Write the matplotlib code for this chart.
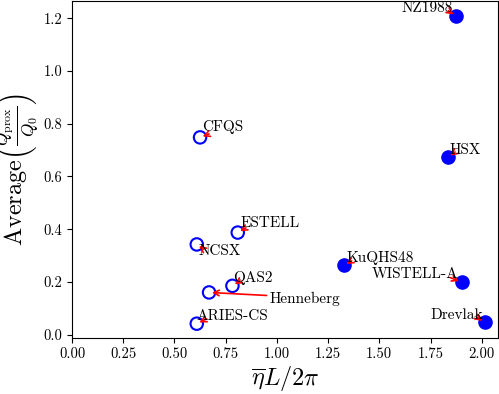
import matplotlib
matplotlib.use("Agg")
import matplotlib.pyplot as plt

plt.rcParams['font.family'] = 'serif'
plt.rcParams['font.serif'] = ['cmr10']
plt.rcParams['mathtext.fontset'] = 'cm'
plt.rcParams['axes.formatter.use_mathtext'] = True

names = ["NZ1988", "HSX", "CFQS", "ESTELL", "NCSX", "QAS2", "Henneberg",
         "ARIES-CS", "KuQHS48", "WISTELL-A", "Drevlak"]
eta_L = [1.874, 1.835, 0.625, 0.809, 0.609, 0.783, 0.669, 0.609, 1.327, 1.902, 2.014]
q_ratio = [1.208, 0.672, 0.748, 0.387, 0.342, 0.185, 0.160, 0.0415, 0.263, 0.199, 0.046]
filled = [True, True, False, False, False, False, False, False, True, True, True]
label_pos = [(1.861, 1.224, 'right'), (1.845, 0.684, 'left'), (0.635, 0.771, 'left'),
             (0.825, 0.408, 'left'), (0.620, 0.302, 'left'), (0.787, 0.201, 'left'),
             (0.963, 0.120, 'left'), (0.609, 0.057, 'left'), (1.338, 0.277, 'left'),
             (1.886, 0.214, 'right'), (2.005, 0.060, 'right')]
arrow_start = [(1.837, 1.228), (1.870, 0.6925), (0.669, 0.761), (0.849, 0.405),
               (0.641, 0.324), (0.820, 0.204), (0.950, 0.1485), (0.6575, 0.060),
               (1.365, 0.2796), (1.845, 0.2165), (1.972, 0.069)]

fig = plt.figure(figsize=(4.99, 3.94), dpi=100)
ax = fig.add_axes([0.1443, 0.142, 0.854, 0.856])

for x, y, f in zip(eta_L, q_ratio, filled):
    if f:
        ax.scatter(x, y, s=90, color='blue', zorder=3)
    else:
        ax.scatter(x, y, s=80, facecolors='none', edgecolors='blue', linewidths=1.5, zorder=3)

for n, (tx, ty, ha) in zip(names, label_pos):
    ax.text(tx, ty, n, ha=ha, va='baseline', fontsize=11, zorder=5)

for x, y, (sx, sy) in zip(eta_L, q_ratio, arrow_start):
    ax.annotate('', xy=(x, y), xytext=(sx, sy), zorder=4,
                arrowprops=dict(arrowstyle='->', color='red', lw=1.2,
                                shrinkA=0, shrinkB=2))

ax.set_xlim(0, 2.08)
ax.set_ylim(-0.013, 1.266)
ax.set_xticks([0, 0.25, 0.5, 0.75, 1.0, 1.25, 1.5, 1.75, 2.0])
ax.set_xticklabels(["0.00", "0.25", "0.50", "0.75", "1.00", "1.25", "1.50", "1.75", "2.00"])
ax.set_yticks([0, 0.2, 0.4, 0.6, 0.8, 1.0, 1.2])
ax.set_yticklabels(["0.0", "0.2", "0.4", "0.6", "0.8", "1.0", "1.2"])
ax.tick_params(labelsize=10.5)
ax.set_xlabel(r'$\overline{\eta}L/2\pi$', fontsize=17.5, labelpad=2)
ax.set_ylabel(r'Average$\left(\frac{Q_{\mathrm{prox}}}{Q_0}\right)$', fontsize=17.5, labelpad=2)

fig.savefig("out.png", dpi=100)
